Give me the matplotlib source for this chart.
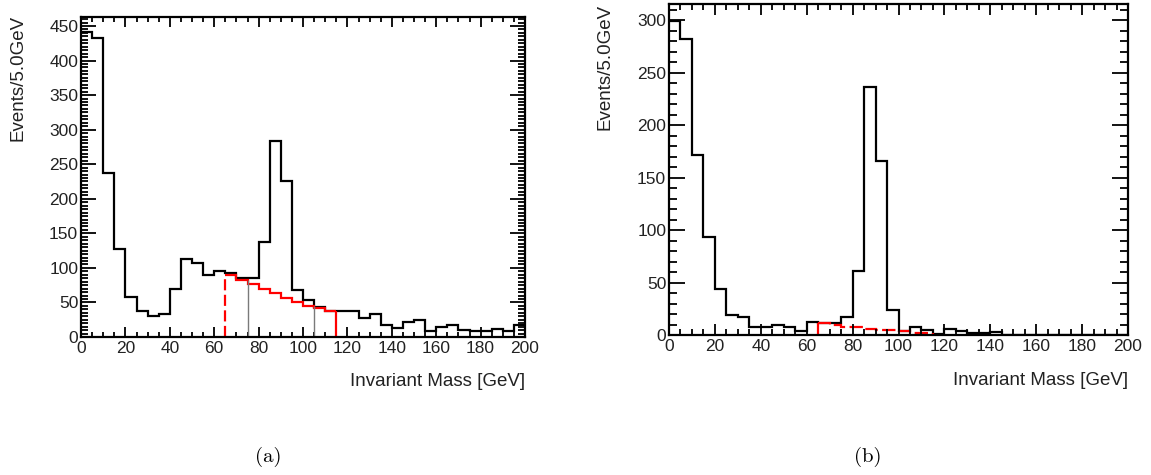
import numpy as np
import matplotlib
matplotlib.use("Agg")
import matplotlib.pyplot as plt
from matplotlib.ticker import MultipleLocator

plt.rcParams['font.family'] = ['Liberation Sans', 'DejaVu Sans']

# ---------------- data ----------------
bin_edges = np.arange(0, 205, 5)          # 0..200 GeV, 5 GeV bins
red_edges = np.arange(65, 120, 5)         # 65..115 GeV window

a_black = [441, 432, 237, 127, 58, 38, 30, 34, 69, 113,
           107, 89, 96, 92, 86, 85, 138, 284, 226, 68,
           54, 44, 38, 38, 38, 28, 34, 17, 13, 21,
           25, 8, 15, 17, 10, 8, 8, 12, 8, 18]
a_red = [90, 83, 77, 69, 63, 56, 51, 45, 41.5, 37.6]
a_marks = [75, 105]

b_black = [299, 282, 171, 93, 44, 19, 17, 8, 8, 10,
           8, 4, 12, 11, 11, 17, 61, 236, 166, 24,
           3.5, 8, 5, 1, 6, 4, 2, 2, 3, 0,
           0, 0, 0, 0, 0, 0, 0, 0, 0, 0]
b_red = [11.5, 9.5, 8, 7.5, 6, 5, 5, 4, 2, 2]

x_label = "Invariant Mass [GeV]"
y_label = "Events/5.0GeV"
captions = ["(a)", "(b)"]

W, H = 1151, 475
fig = plt.figure(figsize=(W / 100, H / 100), dpi=100)

def px_box(l, t, r, b):
    return [l / W, 1 - b / H, (r - l) / W, (b - t) / H]

txt_col = '#222222'

def style_axes(ax, ymax, ymaj, ymin, xlen, ylen):
    ax.set_xlim(0, 200)
    ax.set_ylim(0, ymax)
    ax.xaxis.set_major_locator(MultipleLocator(20))
    ax.xaxis.set_minor_locator(MultipleLocator(5))
    ax.yaxis.set_major_locator(MultipleLocator(ymaj))
    ax.yaxis.set_minor_locator(MultipleLocator(ymin))
    for s in ax.spines.values():
        s.set_linewidth(1.6)
    ax.tick_params(axis='both', which='both', direction='in', top=True, right=True,
                   width=1.3, colors='black', labelcolor=txt_col, labelsize=12.5)
    ax.tick_params(axis='x', which='major', length=xlen[0], pad=3)
    ax.tick_params(axis='x', which='minor', length=xlen[1])
    ax.tick_params(axis='y', which='major', length=ylen[0], pad=2)
    ax.tick_params(axis='y', which='minor', length=ylen[1])

# ---------------- panel (a) ----------------
axa = fig.add_axes(px_box(81, 17, 525, 337))
axa.stairs(a_black, bin_edges, baseline=None, color='black', linewidth=1.6)
axa.stairs(a_red, red_edges, baseline=None, color='red', linewidth=1.6)
axa.vlines(red_edges[0], 0, a_red[0], color='red', linewidth=1.6, linestyles=(0, (5, 2)))
axa.vlines(red_edges[-1], 0, a_red[-1], color='red', linewidth=1.6)
for m in a_marks:
    i = int((m - red_edges[0]) // 5) - 1
    axa.vlines(m, 0, a_red[i], color='#7a7a7a', linewidth=1.0)
style_axes(axa, 463, 50, 5, (7.2, 3.6), (10.8, 5.0))
axa.text(1.0, -0.1375, x_label, transform=axa.transAxes, ha='right', va='center',
         fontsize=13.5, color=txt_col)
fig.text(18 / W, 1 - 15 / H, y_label, rotation=90, ha='center', va='top',
         fontsize=13.5, color=txt_col)

# ---------------- panel (b) ----------------
axb = fig.add_axes(px_box(669, 4.3, 1128, 335))
axb.stairs(b_black, bin_edges, baseline=None, color='black', linewidth=1.6)
axb.stairs(b_red, red_edges, baseline=None, color='red', linewidth=1.6,
           linestyle=(0, (6, 2)))
axb.vlines(red_edges[0], 0, b_red[0], color='red', linewidth=1.6)
axb.vlines(red_edges[-1], 0, b_red[-1], color='red', linewidth=1.6)
style_axes(axb, 315, 50, 10, (8.0, 4.3), (11.5, 5.8))
axb.text(1.0, -0.139, x_label, transform=axb.transAxes, ha='right', va='center',
         fontsize=13.5, color=txt_col)
fig.text(605 / W, 1 - 4 / H, y_label, rotation=90, ha='center', va='top',
         fontsize=13.5, color=txt_col)

# ---------------- captions ----------------
fig.text(268 / W, 1 - 457 / H, captions[0], ha='center', va='center',
         fontsize=15, family=['cmr10', 'DejaVu Serif'])
fig.text(868 / W, 1 - 457 / H, captions[1], ha='center', va='center',
         fontsize=15, family=['cmr10', 'DejaVu Serif'])

fig.savefig("out.png", dpi=100)
